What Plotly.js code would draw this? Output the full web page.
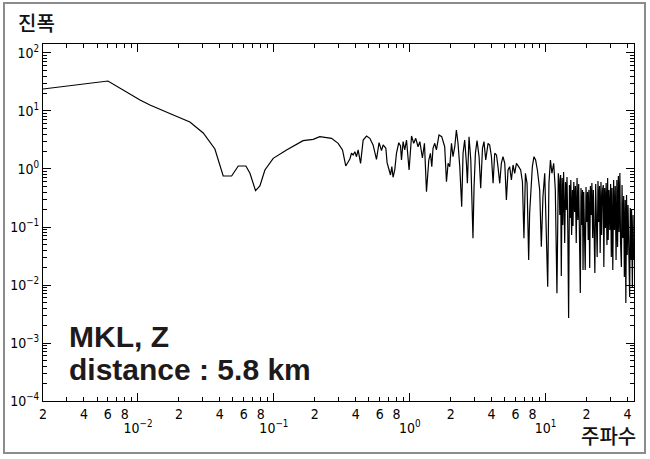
<!DOCTYPE html>
<html><head><meta charset="utf-8">
<script src="https://cdn.plot.ly/plotly-3.0.1.min.js"></script>
<style>
body{margin:0;background:#fff}
#wrap{position:relative;width:650px;height:459px}
#chart{width:650px;height:459px}
#frame{position:absolute;left:3px;top:2px;width:639px;height:448px;border:2px solid #8c8c8c;pointer-events:none}
</style>
</head><body><div id="wrap"><div id="chart"></div><div id="frame"></div></div>
<script>
// Spectrum, as log10(frequency [Hz]) and log10(amplitude)
const freqLog10 = [
-2.699,-2.221,-1.985,-1.912,-1.740,-1.618,-1.520,-1.434,-1.373,-1.311,-1.262,-1.206,-1.176,-1.135,-1.103,-1.066,-1.005,-0.907,-0.785,-0.711,-0.662,-0.576,-0.527,-0.495,-0.471,
-0.441,-0.429,-0.417,-0.404,-0.392,-0.380,-0.362,-0.343,-0.318,-0.294,-0.270,-0.245,-0.226,-0.208,-0.196,-0.176,-0.167,-0.152,-0.142,-0.132,-0.123,-0.110,-0.098,-0.081,-0.068,-0.061,-0.049,-0.037,-0.024,-0.005,
0.013,0.029,0.044,0.061,0.074,0.093,0.108,0.123,0.140,0.152,0.162,0.171,0.184,0.196,0.215,0.235,0.257,0.270,0.282,0.294,0.307,0.318,0.331,0.343,0.355,0.368,0.382,0.392,0.404,0.417,0.424,0.436,0.449,0.458,0.465,0.473,0.483,0.495,0.510,0.522,0.535,0.546,0.559,0.576,
0.588,0.601,0.613,0.625,0.638,0.649,0.662,0.674,0.686,0.699,0.711,0.723,0.735,0.748,0.760,0.772,0.785,0.801,0.816,0.829,0.840,0.851,0.863,0.875,0.882,0.892,0.902,0.914,0.926,0.939,0.956,0.968,0.980,0.993,
1.005,1.015,1.024,1.035,1.046,1.059,1.071,1.083,1.093,
1.099,1.104,1.110,1.115,1.121,1.126,1.132,1.140,1.146,1.151,1.157,1.163,1.169,1.175,1.180,1.185,1.191,1.197,1.201,1.207,1.213,1.219,1.225,1.231,1.237,1.243,1.249,1.255,1.260,1.265,1.271,1.275,1.280,1.285,1.291,1.297,
1.302,1.308,1.313,1.318,1.324,1.329,1.335,1.340,1.346,1.351,1.357,1.362,1.368,1.374,1.379,1.385,1.390,1.396,1.401,1.407,1.412,1.418,1.424,1.428,1.434,1.440,1.445,1.451,1.456,1.460,1.466,1.472,1.478,1.483,1.488,1.494,
1.500,1.506,1.512,1.518,1.524,1.529,1.535,1.540,1.546,1.551,1.557,1.562,1.568,1.574,1.579,1.585,1.590,1.595,1.600,1.606,1.612,1.618,1.623,1.628,1.632,1.638,1.643,1.647
];
const ampLog10 = [
1.379,1.517,1.190,1.103,0.931,0.810,0.621,0.345,-0.121,-0.121,0.052,0.052,-0.074,-0.374,-0.293,-0.017,0.184,0.328,0.488,0.512,0.557,0.529,0.443,0.328,0.052,
0.170,0.271,0.241,0.298,0.212,0.328,0.098,0.500,0.569,0.529,0.414,0.167,0.454,0.316,0.414,0.357,0.109,-0.017,-0.103,0.040,-0.143,-0.005,0.271,0.454,0.397,0.155,0.471,0.328,0.500,-0.017,
0.569,0.443,0.529,0.384,0.471,0.190,0.443,-0.391,0.155,0.271,0.040,0.357,0.443,0.328,0.586,0.557,0.384,-0.219,0.098,0.040,0.443,0.212,0.384,0.672,0.443,0.040,-0.650,0.271,0.500,0.098,-0.247,0.557,0.155,-0.592,-1.195,-0.305,0.271,0.488,0.212,-0.333,0.357,0.471,0.155,0.443,
0.414,0.212,-0.247,0.271,0.241,0.040,-0.247,0.098,0.212,0.098,-0.534,-0.017,0.040,-0.190,0.069,-0.074,0.098,0.040,-0.017,-0.219,-1.195,-0.074,-0.247,-1.569,-0.764,-0.362,0.040,0.212,0.155,-0.017,-0.362,-1.340,-0.478,-0.074,
-0.936,-2.029,-0.247,0.155,-0.074,0.098,-0.362,-2.143,-0.074,
-0.190,-0.793,-0.103,-1.845,-0.155,-0.966,-0.052,-1.276,-0.224,-0.707,-0.138,-1.052,-2.569,-0.276,-0.845,-0.190,-1.138,-0.362,-0.983,-0.224,-0.741,-0.293,-1.276,-0.155,-0.879,-0.259,-1.086,-2.138,-0.328,-0.966,-0.362,-1.741,-0.397,-1.052,-1.741,-0.310,
-0.914,-0.397,-1.224,-0.362,-1.707,-0.293,-0.793,-0.241,-1.190,-0.362,-0.966,-1.793,-0.259,-1.017,-1.517,-0.207,-0.914,-0.293,-1.448,-0.224,-1.138,-0.362,-0.276,-1.690,-0.328,-1.017,-0.241,-1.310,-0.155,-1.224,-0.362,-1.052,-0.259,-1.517,-0.328,-1.741,
-0.190,-1.052,-0.293,-1.569,-0.190,-1.345,-0.121,-1.086,-0.069,-1.259,-1.690,-0.276,-1.190,-0.466,-1.862,-0.534,-2.310,-0.448,-1.483,-0.621,-1.828,-2.207,-0.672,-1.569,-0.707,-2.034,-0.793,-1.569
];

const xDecades = [0.01, 0.1, 1, 10];
const xDecadeLabels = ['10<sup>−2</sup>','10<sup>−1</sup>','10<sup>0</sup>','10<sup>1</sup>'];
const xDigitBases = [0.001, 0.01, 0.1, 1, 10];
const labelledDigits = [2,4,6,8];
const unlabelledDigits = [3,5,7,9];
const yDecades = [1e-4,1e-3,1e-2,1e-1,1,10,100];
const yDecadeLabels = ['10<sup>−4</sup>','10<sup>−3</sup>','10<sup>−2</sup>','10<sup>−1</sup>','10<sup>0</sup>','10<sup>1</sup>','10<sup>2</sup>'];
const yMinorBases = [1e-4,1e-3,1e-2,1e-1,1,10];
const allDigits = [2,3,4,5,6,7,8,9];

const freq = freqLog10.map(v => Math.pow(10, v));
const amp = ampLog10.map(v => Math.pow(10, v));

const inRange = v => v >= 0.002 && v <= 45;
const xLabVals = [], xLabText = [], xMinorVals = [];
xDigitBases.forEach(b => {
  labelledDigits.forEach(d => { const v = b * d; if (inRange(v)) { xLabVals.push(v); xLabText.push(String(d)); } });
  unlabelledDigits.forEach(d => { const v = b * d; if (inRange(v)) xMinorVals.push(v); });
});
const yMinorVals = [];
yMinorBases.forEach(b => allDigits.forEach(d => yMinorVals.push(b * d)));

const tickFont = {family: 'Liberation Sans Narrow, DejaVu Sans Condensed, Liberation Sans, Arial, sans-serif', size: 14, color: '#000'};
const xRange = [Math.log10(0.002), 1.650];

const data = [{
  x: freq, y: amp, type: 'scatter', mode: 'lines',
  line: {color: '#000', width: 1.2}, hoverinfo: 'skip', showlegend: false
}, {
  x: [0.01], y: [1], xaxis: 'x2', yaxis: 'y', type: 'scatter', mode: 'markers',
  marker: {opacity: 0}, hoverinfo: 'skip', showlegend: false
}];

const layout = {
  width: 650, height: 459,
  margin: {l: 43, r: 16, t: 44, b: 58},
  paper_bgcolor: '#fff', plot_bgcolor: '#fff',
  showlegend: false,
  xaxis: {
    type: 'log', range: xRange, tickmode: 'array', tickvals: xLabVals, ticktext: xLabText,
    ticks: 'inside', ticklen: 4, tickwidth: 1, tickcolor: '#000',
    minor: {tickmode: 'array', tickvals: xMinorVals, ticks: 'inside', ticklen: 4, tickcolor: '#000', showgrid: false},
    showline: true, linecolor: '#000', linewidth: 1, mirror: 'ticks',
    showgrid: false, zeroline: false, tickfont: tickFont, ticklabelstandoff: 0
  },
  xaxis2: {
    type: 'log', range: xRange, overlaying: 'x', anchor: 'y', side: 'bottom',
    tickmode: 'array', tickvals: xDecades, ticktext: xDecadeLabels,
    ticks: 'inside', ticklen: 8, tickwidth: 1, tickcolor: '#000',
    showline: false, mirror: 'ticks', showgrid: false, zeroline: false,
    tickfont: tickFont, ticklabelstandoff: 17
  },
  yaxis: {
    type: 'log', range: [-4, 2.155], tickmode: 'array', tickvals: yDecades, ticktext: yDecadeLabels,
    ticks: 'inside', ticklen: 8, tickwidth: 1, tickcolor: '#000',
    minor: {tickmode: 'array', tickvals: yMinorVals, ticks: 'inside', ticklen: 4, tickcolor: '#000', showgrid: false},
    showline: true, linecolor: '#000', linewidth: 1, mirror: 'ticks',
    showgrid: false, zeroline: false, tickfont: tickFont
  },
  annotations: [
    {text: '진폭', xref: 'paper', yref: 'paper', x: -0.046, y: 1.106, xanchor: 'left', yanchor: 'top', showarrow: false,
     font: {family: 'Noto Sans CJK KR, sans-serif', size: 20, color: '#111', weight: 500}},
    {text: '주파수', xref: 'paper', yref: 'paper', x: 1.006, y: -0.143, xanchor: 'right', yanchor: 'bottom', showarrow: false,
     font: {family: 'Noto Sans CJK KR, sans-serif', size: 20, color: '#111', weight: 500}},
    {text: 'MKL, Z', xref: 'paper', yref: 'paper', x: 0.040, y: 0.180, xanchor: 'left', yanchor: 'middle', showarrow: false,
     font: {family: 'Liberation Sans, Arial, sans-serif', size: 30, color: '#1e1a1b', weight: 'bold'}},
    {text: 'distance : 5.8 km', xref: 'paper', yref: 'paper', x: 0.040, y: 0.089, xanchor: 'left', yanchor: 'middle', showarrow: false,
     font: {family: 'Liberation Sans, Arial, sans-serif', size: 30, color: '#1e1a1b', weight: 'bold'}}
  ]
};

Plotly.newPlot('chart', data, layout, {staticPlot: true, displayModeBar: false});
</script>
</body></html>
